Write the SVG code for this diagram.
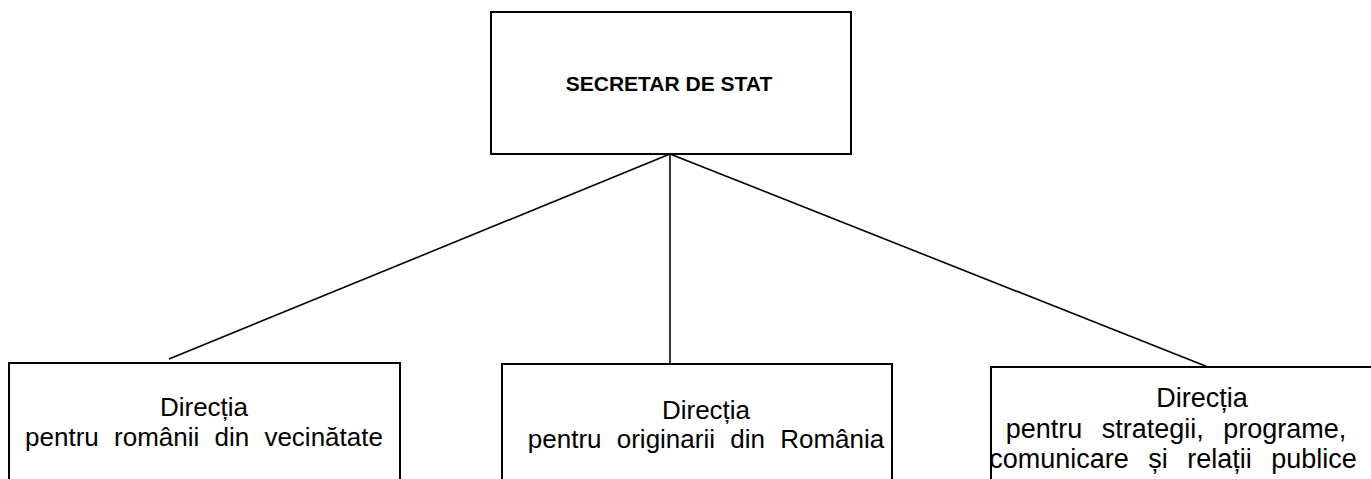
<svg xmlns="http://www.w3.org/2000/svg" width="1371" height="479" viewBox="0 0 1371 479">
<style>
.box{fill:#fff;stroke:#000;stroke-width:2}
.con{stroke:#000;stroke-width:1.6;fill:none}
.t{font-family:"Liberation Sans",Arial,sans-serif;font-size:26px;fill:#000;text-anchor:middle;word-spacing:8px}
.t2{font-size:27px;word-spacing:12px}
.tb{font-family:"Liberation Sans",Arial,sans-serif;font-size:21px;font-weight:bold;fill:#000;text-anchor:middle}
</style>
<rect width="1371" height="479" fill="#fff"/>
<g id="connectors">
<line class="con" x1="670" y1="154" x2="169" y2="359"/>
<line class="con" x1="670" y1="154" x2="670" y2="364"/>
<line class="con" x1="670" y1="154" x2="1208" y2="367"/>
</g>
<g id="secretar">
<rect class="box" x="491" y="12" width="360" height="142"/>
<text class="tb" x="669" y="91">SECRETAR DE STAT</text>
</g>
<g id="dir-vecinatate">
<rect class="box" x="9" y="363" width="391" height="130"/>
<text class="t" x="204" y="416">Direcția</text>
<text class="t" x="204" y="446">pentru românii din vecinătate</text>
</g>
<g id="dir-originari">
<rect class="box" x="502" y="364" width="390" height="130"/>
<text class="t" x="706" y="419">Direcția</text>
<text class="t" x="706" y="448">pentru originarii din România</text>
</g>
<g id="dir-strategii">
<rect class="box" x="991" y="367" width="400" height="130"/>
<text class="t t2" x="1202" y="407">Direcția</text>
<text class="t t2" x="1176" y="438">pentru strategii, programe,</text>
<text class="t t2" x="1173" y="468">comunicare și relații publice</text>
</g>
</svg>
